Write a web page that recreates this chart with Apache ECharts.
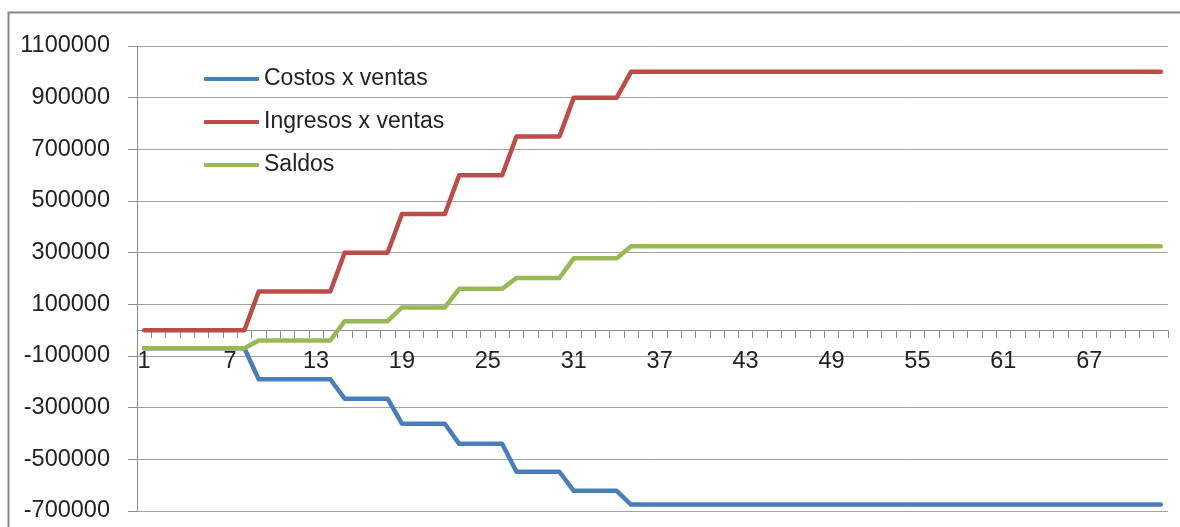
<!DOCTYPE html>
<html>
<head>
<meta charset="utf-8">
<title>Costos, ingresos y saldos</title>
<script src="https://cdn.jsdelivr.net/npm/echarts@6/dist/echarts.min.js"></script>
<style>
  html, body { margin: 0; padding: 0; background: #ffffff; }
  #chart { width: 1180px; height: 527px; }
</style>
</head>
<body>
<div id="chart"></div>
<script>
// Periods on the horizontal axis
const categories = [
  '1','2','3','4','5','6','7','8','9','10',
  '11','12','13','14','15','16','17','18','19','20',
  '21','22','23','24','25','26','27','28','29','30',
  '31','32','33','34','35','36','37','38','39','40',
  '41','42','43','44','45','46','47','48','49','50',
  '51','52','53','54','55','56','57','58','59','60',
  '61','62','63','64','65','66','67','68','69','70',
  '71','72'
];

// Cumulative costs of sales
const costosVentas = [
  -70000, -70000, -70000, -70000, -70000, -70000, -70000, -70000,
  -190000, -190000, -190000, -190000, -190000, -190000,
  -265000, -265000, -265000, -265000,
  -362000, -362000, -362000, -362000,
  -440000, -440000, -440000, -440000,
  -548000, -548000, -548000, -548000,
  -622000, -622000, -622000, -622000,
  -675000, -675000, -675000, -675000, -675000, -675000, -675000, -675000, -675000, -675000,
  -675000, -675000, -675000, -675000, -675000, -675000, -675000, -675000, -675000, -675000,
  -675000, -675000, -675000, -675000, -675000, -675000, -675000, -675000, -675000, -675000,
  -675000, -675000, -675000, -675000, -675000, -675000, -675000, -675000
];

// Cumulative sales income
const ingresosVentas = [
  0, 0, 0, 0, 0, 0, 0, 0,
  150000, 150000, 150000, 150000, 150000, 150000,
  300000, 300000, 300000, 300000,
  450000, 450000, 450000, 450000,
  600000, 600000, 600000, 600000,
  750000, 750000, 750000, 750000,
  900000, 900000, 900000, 900000,
  1000000, 1000000, 1000000, 1000000, 1000000, 1000000, 1000000, 1000000, 1000000, 1000000,
  1000000, 1000000, 1000000, 1000000, 1000000, 1000000, 1000000, 1000000, 1000000, 1000000,
  1000000, 1000000, 1000000, 1000000, 1000000, 1000000, 1000000, 1000000, 1000000, 1000000,
  1000000, 1000000, 1000000, 1000000, 1000000, 1000000, 1000000, 1000000
];

// Running balance
const saldos = [
  -70000, -70000, -70000, -70000, -70000, -70000, -70000, -70000,
  -40000, -40000, -40000, -40000, -40000, -40000,
  35000, 35000, 35000, 35000,
  88000, 88000, 88000, 88000,
  160000, 160000, 160000, 160000,
  202000, 202000, 202000, 202000,
  278000, 278000, 278000, 278000,
  325000, 325000, 325000, 325000, 325000, 325000, 325000, 325000, 325000, 325000,
  325000, 325000, 325000, 325000, 325000, 325000, 325000, 325000, 325000, 325000,
  325000, 325000, 325000, 325000, 325000, 325000, 325000, 325000, 325000, 325000,
  325000, 325000, 325000, 325000, 325000, 325000, 325000, 325000
];

const seriesNames = ['Costos x ventas', 'Ingresos x ventas', 'Saldos'];
const seriesColors = ['#4A7EBB', '#BE4B48', '#98B954'];

const FONT = '"Liberation Sans", Arial, sans-serif';
const TEXT_COLOR = '#222222';
const GRID_COLOR = '#a3a3a3';
const AXIS_COLOR = '#8c8c8c';

const chart = echarts.init(document.getElementById('chart'), null, { renderer: 'canvas' });

function lineSeries(name, data, color) {
  return {
    name: name,
    type: 'line',
    data: data,
    showSymbol: false,
    symbol: 'none',
    smooth: false,
    lineStyle: { color: color, width: 4.5, cap: 'round', join: 'round' },
    itemStyle: { color: color },
    emphasis: { disabled: true },
    animation: false
  };
}

chart.setOption({
  animation: false,
  backgroundColor: '#ffffff',
  textStyle: { fontFamily: FONT },
  graphic: [{
    type: 'rect',
    shape: { x: 8.5, y: 12.5, width: 1200, height: 600 },
    style: { fill: null, stroke: '#868686', lineWidth: 2 },
    silent: true,
    z: -10
  }],
  grid: {
    left: 137, right: 12, top: 46, bottom: 16,
    containLabel: false,
    outerBoundsMode: 'none'
  },
  legend: {
    orient: 'vertical',
    left: 199,
    top: 62,
    icon: 'roundRect',
    itemWidth: 55,
    itemHeight: 4,
    itemGap: 19,
    selectedMode: false,
    textStyle: { fontFamily: FONT, fontSize: 23, lineHeight: 24, color: TEXT_COLOR },
    data: seriesNames
  },
  xAxis: {
    type: 'category',
    data: categories,
    boundaryGap: true,
    position: 'bottom',
    offset: 0,
    axisLine: { show: true, onZero: false, lineStyle: { color: AXIS_COLOR, width: 1 } },
    axisTick: { show: true, interval: 0, length: 8, alignWithLabel: false, lineStyle: { color: AXIS_COLOR } },
    axisLabel: {
      interval: 5,
      margin: 19,
      fontFamily: FONT,
      fontSize: 23.5,
      color: TEXT_COLOR
    },
    splitLine: { show: false }
  },
  yAxis: {
    type: 'value',
    min: -700000,
    max: 1100000,
    interval: 200000,
    axisLine: { show: true, lineStyle: { color: AXIS_COLOR, width: 1 } },
    axisTick: { show: true, length: 9, lineStyle: { color: AXIS_COLOR } },
    axisLabel: {
      margin: 27,
      fontFamily: FONT,
      fontSize: 23.5,
      color: TEXT_COLOR,
      padding: [3, 0, 0, 0],
      formatter: function (v) { return String(v); }
    },
    splitLine: { show: true, lineStyle: { color: GRID_COLOR, width: 1 } }
  },
  series: [
    lineSeries(seriesNames[0], costosVentas, seriesColors[0]),
    lineSeries(seriesNames[1], ingresosVentas, seriesColors[1]),
    lineSeries(seriesNames[2], saldos, seriesColors[2])
  ]
});

// Lift the category axis (line, ticks and labels) up to the value-axis zero.
const plotBottom = chart.convertToPixel({ yAxisIndex: 0 }, -700000);
const zeroY = chart.convertToPixel({ yAxisIndex: 0 }, 0);
chart.setOption({ xAxis: { offset: -(plotBottom - zeroY) } });
</script>
</body>
</html>
